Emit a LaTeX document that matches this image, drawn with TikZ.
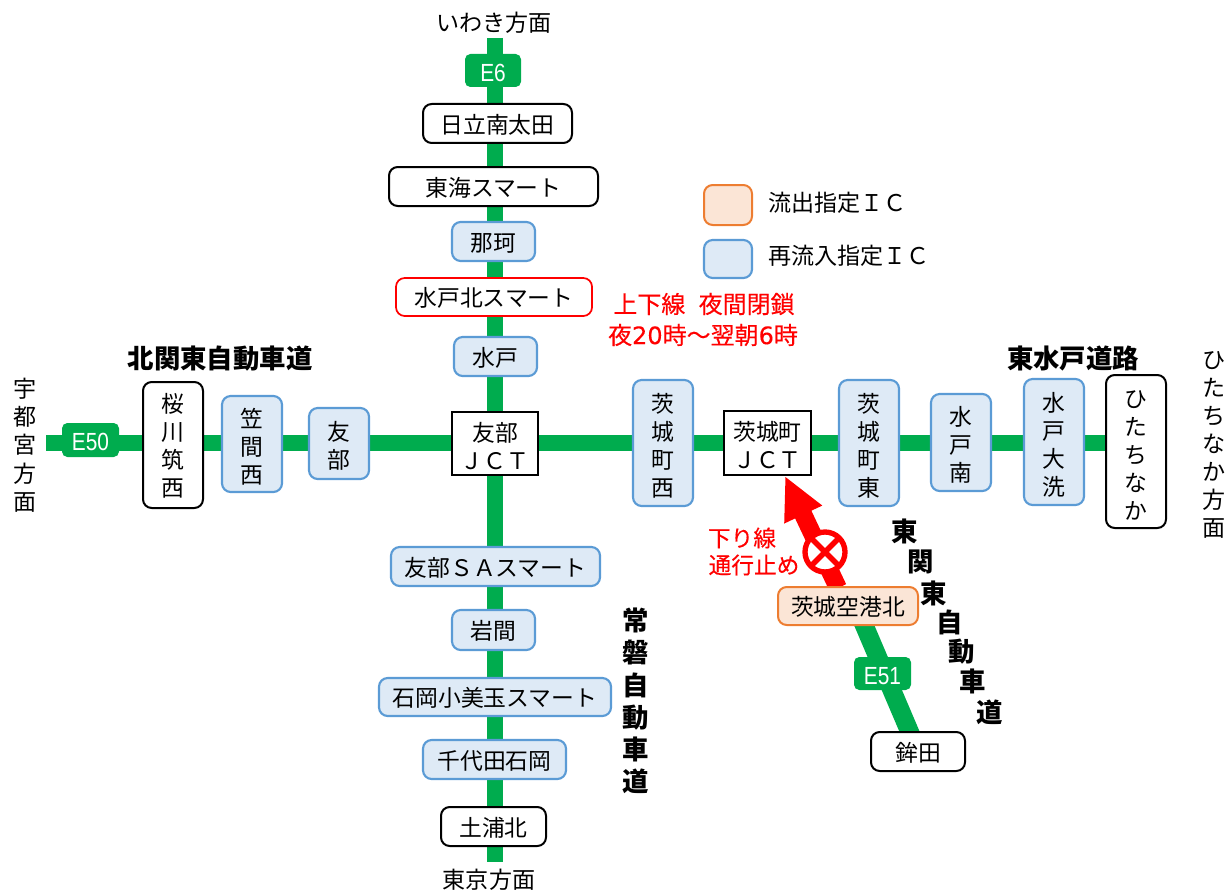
\documentclass[tikz,border=0pt]{standalone}
\usepackage{fontspec}
\setmainfont{Noto Sans CJK JP}
\newfontfamily\latinsans[FakeStretch=0.84]{Liberation Sans}
\newfontfamily\redfont[FakeBold=0.25]{Noto Sans CJK JP}
\newfontfamily\reddigits[FakeBold=0.25]{DejaVu Sans}
\usetikzlibrary{arrows.meta,backgrounds}
\definecolor{roadgreen}{RGB}{0,172,78}
\definecolor{bluefill}{RGB}{222,234,246}
\definecolor{blueline}{RGB}{91,155,213}
\definecolor{orangefill}{RGB}{251,229,214}
\definecolor{orangeline}{RGB}{237,125,49}
\newcommand{\dn}{\rule{0pt}{18pt}}
\newcommand{\bx}[7][]{%
  \pgfmathsetmacro{\bxcx}{(#3+#5)/2}\pgfmathsetmacro{\bxcy}{(#4+#6)/2}%
  \pgfmathsetmacro{\bxw}{(#5-#3)*0.75}\pgfmathsetmacro{\bxh}{(#6-#4)*0.75}%
  \node[#1,minimum width=\bxw pt,minimum height=\bxh pt] (#2) at (\bxcx,\bxcy) {\rule{0pt}{16pt}#7};}
\tikzset{
  x=0.75pt,y=-0.75pt,
  base/.style={inner sep=0pt,outer sep=0pt,align=center,font=\fontsize{17.1}{21}\selectfont,text=black},
  plainic/.style={base,draw=black,fill=white,line width=1.5pt,rounded corners=6.5pt},
  blueic/.style={base,draw=blueline,fill=bluefill,line width=1.6pt,rounded corners=6.5pt},
  orangeic/.style={base,draw=orangeline,fill=orangefill,line width=1.5pt,rounded corners=6.5pt},
  redic/.style={base,draw=red,fill=white,line width=1.3pt,rounded corners=6.5pt},
  jct/.style={base,draw=black,fill=white,line width=1.6pt},
  shield/.style={base,fill=roadgreen,rounded corners=4pt,text=white,font=\latinsans\fontsize{18.6}{20}\selectfont},
  road/.style={draw=roadgreen,line width=12pt},
  lab/.style={inner sep=0pt,outer sep=0pt,align=center,font=\fontsize{17.3}{21.2}\selectfont},
  title/.style={inner sep=0pt,outer sep=0pt,align=center,font=\bfseries\fontsize{19.8}{24.2}\selectfont},
  redlab/.style={inner sep=0pt,outer sep=0pt,align=center,text=red,font=\redfont\fontsize{18}{22}\selectfont},
}
\begin{document}
\begin{tikzpicture}
\useasboundingbox (0,0) rectangle (1229,892);
% vertical line
\bx[shield]{e6}{465}{54}{521}{87}{E6}
\bx[plainic]{hitachi}{423}{104}{572}{143}{日立南太田}
\bx[plainic]{tokai}{389}{167}{598}{206}{東海スマート}
\bx[blueic]{naka}{452}{222}{535}{261}{那珂}
\bx[redic]{mitokita}{396}{278}{592}{316}{水戸北スマート}
\bx[blueic]{mito}{454}{337}{537}{376}{水戸}
\bx[jct]{tomobe}{452}{412}{538}{475}{\dn 友部\\ＪＣＴ}
\bx[blueic]{tomobesa}{391}{547}{600}{586}{友部ＳＡスマート}
\bx[blueic]{iwama}{452}{610}{535}{650}{岩間}
\bx[blueic]{ishioka}{379}{678}{611}{716}{石岡小美玉スマート}
\bx[blueic]{chiyoda}{423}{740}{566}{779}{千代田石岡}
\bx[plainic]{tsuchiura}{441}{807}{546}{846}{土浦北}
% horizontal line
\bx[shield]{e50}{62}{423}{119}{457}{E50}
\bx[plainic]{sakuragawa}{143}{382}{203}{508}{桜\\川\\筑\\西}
\bx[blueic]{kasama}{222}{396}{282}{492}{\dn 笠\\間\\西}
\bx[blueic]{tomobeic}{309}{408}{369}{479}{\dn 友\\部}
\bx[blueic]{ibarakiw}{633}{380}{693}{506}{\dn 茨\\城\\町\\西}
\bx[jct]{ibarakij}{724}{411}{811}{475}{\dn 茨城町\\ＪＣＴ}
\bx[blueic]{ibarakie}{839}{380}{899}{506}{\dn 茨\\城\\町\\東}
\bx[blueic]{mitominami}{931}{394}{991}{491}{\dn 水\\戸\\南}
\bx[blueic]{oarai}{1024}{379}{1084}{505}{\dn 水\\戸\\大\\洗}
\bx[plainic]{hitachinaka}{1106}{375}{1166}{528}{\dn ひ\\た\\ち\\な\\か}
% E51
\bx[orangeic]{kuko}{778}{587}{918}{625}{茨城空港北}
\bx[shield]{e51}{854}{657}{911}{690}{E51}
\bx[plainic]{hokota}{871}{732}{965}{771}{鉾田}
% legend
\bx[orangeic]{legout}{704}{185}{752}{225}{}
\bx[blueic]{legin}{704}{240}{752}{278}{}
\node[lab,anchor=west] (legouttext) at (768,203) {流出指定ＩＣ};
\node[lab,anchor=west] (legintext) at (768,256) {再流入指定ＩＣ};
% road ends
\coordinate (ntop) at (495,38);
\coordinate (sbot) at (495,862);
\coordinate (wend) at (46,443);
\coordinate (kukoroad) at (856,606);
\coordinate (kukored) at (838,588);
\coordinate (arrowtip) at (785,476);
\begin{pgfonlayer}{background}
\draw[road] (ntop) -- (sbot);
\draw[road] (wend) -- (hitachinaka.west |- wend);
\draw[road,line width=14pt] (kukoroad) -- (hokota.center);
\draw[red,line width=13.5pt,-{Triangle[length=32pt,width=29pt]}] (kukored) -- (arrowtip);
\end{pgfonlayer}
% closure mark
\node[circle,draw=red,fill=white,line width=4pt,minimum size=30pt,inner sep=0pt,outer sep=0pt] (closed) at (825,552) {};
\draw[red,line width=4pt] (closed.45) -- (closed.225);
\draw[red,line width=4pt] (closed.135) -- (closed.315);
% labels
\node[lab] (iwaki) at (494,23) {いわき方面};
\node[lab] (tokyo) at (489,880) {東京方面};
\node[lab] (utsunomiya) at (25,445) {宇\\都\\宮\\方\\面};
\node[lab,font=\fontsize{17.3}{21}\selectfont] (hitachinakadir) at (1214,445) {ひ\\た\\ち\\な\\か\\方\\面};
\node[title] (kitakanto) at (220,359) {北関東自動車道};
\node[title] (higashimito) at (1073,359) {東水戸道路};
\node[title] (joban) at (636,701) {常\\磐\\自\\動\\車\\道};
\node[title] (hk1) at (905,531) {東};
\node[title] (hk2) at (921,562) {関};
\node[title] (hk3) at (934,593) {東};
\node[title] (hk4) at (950,622) {自};
\node[title] (hk5) at (962,652) {動};
\node[title] (hk6) at (973,681) {車};
\node[title] (hk7) at (990,712) {道};
\node[redlab] (closure1) at (704,304) {上下線\hspace{10pt}夜間閉鎖};
\node[redlab] (closure2) at (703,335) {夜{\reddigits 20}時～翌朝{\reddigits 6}時};
\node[redlab,font=\redfont\fontsize{17}{20}\selectfont] (stop1) at (742,538) {下り線};
\node[redlab,font=\redfont\fontsize{17}{20}\selectfont] (stop2) at (754,565) {通行止め};
\end{tikzpicture}
\end{document}
